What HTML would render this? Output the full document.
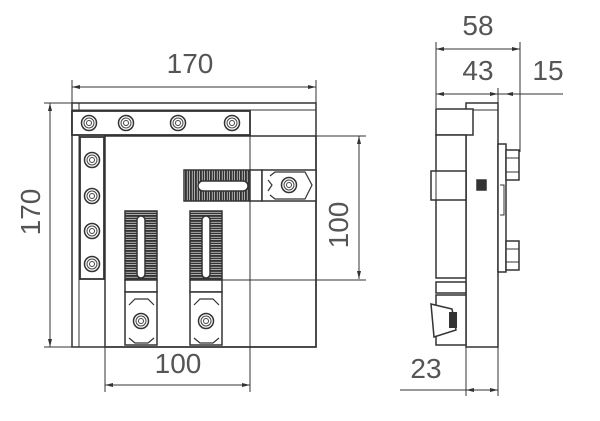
<!DOCTYPE html>
<html><head><meta charset="utf-8"><style>
html,body{margin:0;padding:0;background:#fff;}
svg{display:block;}
text{font-family:"Liberation Sans",sans-serif;font-size:28px;fill:#555;font-weight:normal;}
</style></head><body>
<svg width="600" height="421" viewBox="0 0 600 421" xmlns="http://www.w3.org/2000/svg">
<defs>
<pattern id="vl" width="2.5" height="4" patternUnits="userSpaceOnUse"><rect width="2.5" height="4" fill="#fff"/><rect width="1.9" height="4" fill="#333"/></pattern>
<pattern id="hl" width="4" height="2.5" patternUnits="userSpaceOnUse"><rect width="4" height="2.5" fill="#fff"/><rect width="4" height="1.9" fill="#333"/></pattern>
<marker id="a" markerWidth="8" markerHeight="6" refX="8" refY="3" orient="auto-start-reverse" markerUnits="userSpaceOnUse"><path d="M0,1 L8,3 L0,5" fill="#333"/></marker>
<g id="bolt"><circle r="7.5" fill="#fff" stroke="#333" stroke-width="1.5"/><circle r="5" fill="none" stroke="#444" stroke-width="1"/><circle r="2.5" fill="none" stroke="#444" stroke-width="1"/></g>
</defs>
<g stroke="#333" fill="none" stroke-width="1">
<line x1="72" y1="87" x2="316" y2="87" marker-start="url(#a)" marker-end="url(#a)"/>
<line x1="72" y1="80" x2="72" y2="103"/><line x1="316" y1="80" x2="316" y2="103"/>
<line x1="50" y1="103" x2="50" y2="347" marker-start="url(#a)" marker-end="url(#a)"/>
<line x1="44" y1="103" x2="72" y2="103"/><line x1="44" y1="347" x2="72" y2="347"/>
<line x1="359" y1="136" x2="359" y2="279" marker-start="url(#a)" marker-end="url(#a)"/>
<line x1="316" y1="136" x2="366" y2="136"/><line x1="222" y1="280" x2="366" y2="280"/>
<line x1="105" y1="385" x2="250" y2="385" marker-start="url(#a)" marker-end="url(#a)"/>
<line x1="105" y1="347" x2="105" y2="392"/><line x1="250" y1="120" x2="250" y2="392"/>
<rect x="72" y="103" width="244" height="244" stroke-width="1.5"/>
<line x1="79" y1="103" x2="79" y2="347"/>
<line x1="72" y1="110" x2="316" y2="110"/>
<rect x="105" y="136" width="211" height="211" stroke-width="1.5"/>
<rect x="72" y="111" width="178" height="24" fill="#fff" stroke-width="1.8"/>
<rect x="80" y="137" width="24" height="142" fill="#fff" stroke-width="1.8"/>
</g>
<use href="#bolt" x="89" y="123"/><use href="#bolt" x="126" y="123"/><use href="#bolt" x="178" y="123"/><use href="#bolt" x="232" y="123"/>
<use href="#bolt" x="92" y="160"/><use href="#bolt" x="92" y="196"/><use href="#bolt" x="92" y="231"/><use href="#bolt" x="92" y="264"/>
<g stroke="#333" stroke-width="1.5" fill="none">
<rect x="184" y="170" width="66" height="31" fill="url(#vl)"/>
<rect x="198" y="181" width="50" height="10" rx="5" fill="#fff"/>
<rect x="250" y="170" width="12" height="31" fill="#fff"/>
<rect x="262" y="170" width="54" height="31" fill="#fff"/>
<path d="M270,176 L275,172 L305,172 L312,185 L305,199 L275,199 L270,195 M268,180 L272,185 L268,191" stroke-width="1.2"/>
</g>
<use href="#bolt" x="289" y="185"/>
<g stroke="#333" stroke-width="1.5" fill="none">
<rect x="125" y="211" width="32" height="69" fill="url(#hl)"/>
<rect x="137" y="216" width="8" height="62" rx="4" fill="#fff"/>
<rect x="125" y="280" width="32" height="12" fill="#fff"/>
<rect x="125" y="292" width="32" height="53" fill="#fff"/>
<path d="M129,305 L135,299 L148,299 L154,305 M129,338 L135,343 L148,343 L154,338" stroke-width="1.2"/>
<rect x="190" y="211" width="32" height="69" fill="url(#hl)"/>
<rect x="202" y="216" width="8" height="62" rx="4" fill="#fff"/>
<rect x="190" y="280" width="32" height="12" fill="#fff"/>
<rect x="190" y="292" width="32" height="53" fill="#fff"/>
<path d="M194,305 L200,299 L213,299 L219,305 M194,338 L200,343 L213,343 L219,338" stroke-width="1.2"/>
</g>
<use href="#bolt" x="141" y="321"/><use href="#bolt" x="206" y="321"/>
<g stroke="#333" fill="none" stroke-width="1">
<line x1="436" y1="49" x2="520" y2="49" marker-start="url(#a)" marker-end="url(#a)"/>
<line x1="436" y1="94" x2="498" y2="94" marker-start="url(#a)" marker-end="url(#a)"/>
<line x1="498" y1="94" x2="563" y2="94"/>
<line x1="505" y1="94" x2="520" y2="94" marker-start="url(#a)"/>
<line x1="436" y1="42" x2="436" y2="108"/><line x1="520" y1="42" x2="520" y2="152"/><line x1="498" y1="88" x2="498" y2="104"/>
<line x1="400" y1="390" x2="498" y2="390"/>
<line x1="466" y1="390" x2="498" y2="390" marker-start="url(#a)" marker-end="url(#a)"/>
<line x1="466" y1="347" x2="466" y2="396"/><line x1="498" y1="347" x2="498" y2="396"/>
</g>
<g stroke="#333" fill="#fff" stroke-width="1.5">
<rect x="466" y="103" width="32" height="244"/>
<line x1="466" y1="110" x2="498" y2="110" stroke-width="1"/>
<rect x="436" y="109" width="37" height="26"/>
<rect x="436" y="135" width="30" height="143"/>
<rect x="431" y="171" width="35" height="29"/>
<line x1="436" y1="171" x2="436" y2="200" stroke-width="1"/>
<rect x="477" y="180" width="9" height="10" fill="#333"/>
<rect x="498" y="144" width="8" height="128"/>
<rect x="506" y="150" width="13" height="30"/>
<line x1="506" y1="158" x2="519" y2="158" stroke-width="1"/><line x1="506" y1="172" x2="519" y2="172" stroke-width="1"/>
<rect x="506" y="241" width="13" height="29"/>
<line x1="506" y1="249" x2="519" y2="249" stroke-width="1"/><line x1="506" y1="262" x2="519" y2="262" stroke-width="1"/>
<path d="M500,185 L504,185 L504,215 L500,215" fill="none" stroke-width="1"/>
<rect x="436" y="282" width="30" height="11"/>
<rect x="436" y="295" width="30" height="50"/>
<path d="M431,304 L452,309 L456,330 L434,337 Z"/>
<rect x="449" y="312" width="8" height="16" fill="#333" stroke="none"/>
</g>
<text x="190" y="73" text-anchor="middle">170</text>
<text transform="translate(40,212) rotate(-90)" text-anchor="middle">170</text>
<text transform="translate(348,225) rotate(-90)" text-anchor="middle">100</text>
<text x="178" y="373" text-anchor="middle">100</text>
<text x="478" y="35" text-anchor="middle">58</text>
<text x="478" y="80" text-anchor="middle">43</text>
<text x="548" y="80" text-anchor="middle">15</text>
<text x="426" y="378" text-anchor="middle">23</text>
</svg>
</body></html>
